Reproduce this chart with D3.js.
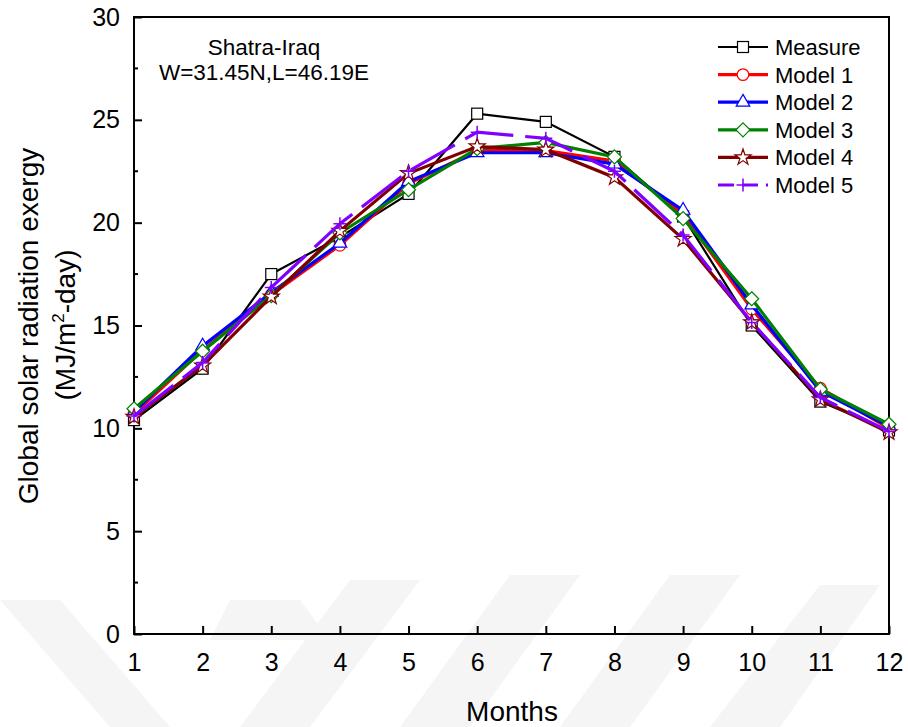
<!DOCTYPE html>
<html><head><meta charset="utf-8">
<script src="https://cdn.jsdelivr.net/npm/d3@7"></script>
<style>body{margin:0;background:#fff}svg{display:block;font-family:"Liberation Sans",Arial,sans-serif}</style>
</head><body><svg id="c" width="908" height="727"></svg>
<script>
const months = [1,2,3,4,5,6,7,8,9,10,11,12];
const measure = [10.4,12.9,17.5,19.3,21.4,25.3,24.9,23.2,20.3,15.0,11.3,9.9];
const model1  = [10.7,13.8,16.5,18.9,21.9,23.5,23.5,23.0,20.4,15.8,11.95,10.0];
const model2  = [10.8,14.0,16.6,19.0,22.0,23.4,23.4,22.85,20.6,16.0,11.8,10.1];
const model3  = [10.95,13.75,16.45,19.5,21.6,23.6,23.9,23.2,20.2,16.3,11.9,10.2];
const model4  = [10.55,13.05,16.4,19.6,22.4,23.7,23.55,22.2,19.2,15.15,11.4,9.8];
const model5  = [10.6,13.2,16.85,19.95,22.5,24.4,24.1,22.5,19.4,15.15,11.5,9.85];
const yTicks = [0,5,10,15,20,25,30];
const seriesNames = ["Measure","Model 1","Model 2","Model 3","Model 4","Model 5"];
const seriesColors = ["#000000","#ff0000","#0000ff","#008000","#800000","#8000ff"];
const seriesShapes = ["square","circle","triangle","diamond","star","plus"];
const seriesData = [measure,model1,model2,model3,model4,model5];

const svg = d3.select("#c");
const m = {l:134, r:889, t:17, b:634};
const x = d3.scaleLinear().domain([1,12]).range([m.l,m.r]);
const y = d3.scaleLinear().domain([0,30]).range([m.b,m.t]);

// watermark-like faint stripes
const wm = svg.append("g").attr("fill","#f5f5f5");
[[[0,600],[60,600],[170,727],[110,727]],
 [[240,727],[310,727],[420,580],[350,580]],
 [[400,727],[470,727],[580,575],[510,575]],
 [[560,727],[630,727],[740,575],[670,575]],
 [[710,727],[780,727],[880,585],[820,585]],
 [[210,640],[330,640],[300,600],[230,600]]].forEach(p=>{
  wm.append("polygon").attr("points",p.map(d=>d.join(",")).join(" "));
});

// frame
svg.append("rect").attr("x",m.l).attr("y",m.t).attr("width",m.r-m.l).attr("height",m.b-m.t)
  .attr("fill","none").attr("stroke","#000").attr("stroke-width",2);

// y axis ticks (inward)
const yAxis = d3.axisLeft(y).tickValues(yTicks).tickSize(-8).tickPadding(14).tickFormat(d3.format("d"));
const gy = svg.append("g").attr("transform",`translate(${m.l},0)`).call(yAxis);
gy.select(".domain").remove();
gy.selectAll("line").attr("stroke-width",2);
gy.selectAll("text").attr("font-size",25).attr("fill","#000").attr("font-family","Liberation Sans, Arial, sans-serif");
const minorY = d3.range(2.5,30,5);
svg.append("g").selectAll("line").data(minorY).join("line")
  .attr("x1",m.l).attr("x2",m.l+4).attr("y1",d=>y(d)).attr("y2",d=>y(d)).attr("stroke","#000").attr("stroke-width",2);

// x axis
const xAxis = d3.axisBottom(x).tickValues(months).tickSize(-8).tickPadding(19).tickFormat(d3.format("d"));
const gx = svg.append("g").attr("transform",`translate(0,${m.b})`).call(xAxis);
gx.select(".domain").remove();
gx.selectAll("line").attr("stroke-width",2);
gx.selectAll("text").attr("font-size",25).attr("fill","#000").attr("font-family","Liberation Sans, Arial, sans-serif");

// axis titles
svg.append("text").attr("x",512).attr("y",721).attr("text-anchor","middle").attr("font-size",28).text("Months");
svg.append("text").attr("transform","translate(38,326) rotate(-90)").attr("text-anchor","middle").attr("font-size",28)
  .text("Global solar radiation exergy");
const yl2 = svg.append("text").attr("transform","translate(75,325) rotate(-90)").attr("text-anchor","middle").attr("font-size",28);
yl2.append("tspan").text("(MJ/m");
yl2.append("tspan").attr("font-size",17).attr("dy",-11).text("2");
yl2.append("tspan").attr("dy",11).text("-day)");

// annotation
svg.append("text").attr("x",264).attr("y",55).attr("text-anchor","middle").attr("font-size",22.5).text("Shatra-Iraq");
svg.append("text").attr("x",264).attr("y",80).attr("text-anchor","middle").attr("font-size",22.5).text("W=31.45N,L=46.19E");

function marker(g, shape, color, cx, cy){
  const s = g.append("g").attr("transform",`translate(${cx},${cy})`);
  if(shape==="square") s.append("rect").attr("x",-5.5).attr("y",-5.5).attr("width",11).attr("height",11).attr("fill","#fff").attr("stroke",color).attr("stroke-width",1.2);
  else if(shape==="circle") s.append("circle").attr("r",5.8).attr("fill","#fff").attr("stroke",color).attr("stroke-width",1.2);
  else if(shape==="triangle") s.append("path").attr("d",d3.symbol(d3.symbolTriangle,80)()).attr("fill","#fff").attr("stroke",color).attr("stroke-width",1.2);
  else if(shape==="diamond") s.append("path").attr("d","M0,-7L7,0L0,7L-7,0Z").attr("fill","#fff").attr("stroke",color).attr("stroke-width",1.2);
  else if(shape==="star") s.append("path").attr("d",d3.symbol(d3.symbolStar,80)()).attr("fill","#fff").attr("stroke",color).attr("stroke-width",1.2);
  else if(shape==="plus") s.append("path").attr("d","M-6.5,0H6.5M0,-6.5V6.5").attr("stroke",color).attr("stroke-width",1.5);
}

const line = d3.line().x((d,i)=>x(months[i])).y(d=>y(d));
seriesData.forEach((data,k)=>{
  const g = svg.append("g");
  g.append("path").attr("d",line(data)).attr("fill","none").attr("stroke",seriesColors[k])
    .attr("stroke-width",k===0?2.2:3.2)
    .attr("stroke-dasharray",k===5?"50,12":null);
  data.forEach((v,i)=>marker(g,seriesShapes[k],seriesColors[k],x(months[i]),y(v)));
});

// legend
const lg = svg.append("g");
seriesNames.forEach((n,k)=>{
  const yy = 47 + k*27.6;
  lg.append("line").attr("x1",718).attr("x2",768).attr("y1",yy).attr("y2",yy).attr("stroke",seriesColors[k])
    .attr("stroke-width",k===0?2.2:3.2).attr("stroke-dasharray",k===5?"16,8":null);
  marker(lg,seriesShapes[k],seriesColors[k],743,yy);
  lg.append("text").attr("x",775).attr("y",yy+8).attr("font-size",22).text(n);
});
</script></body></html>
